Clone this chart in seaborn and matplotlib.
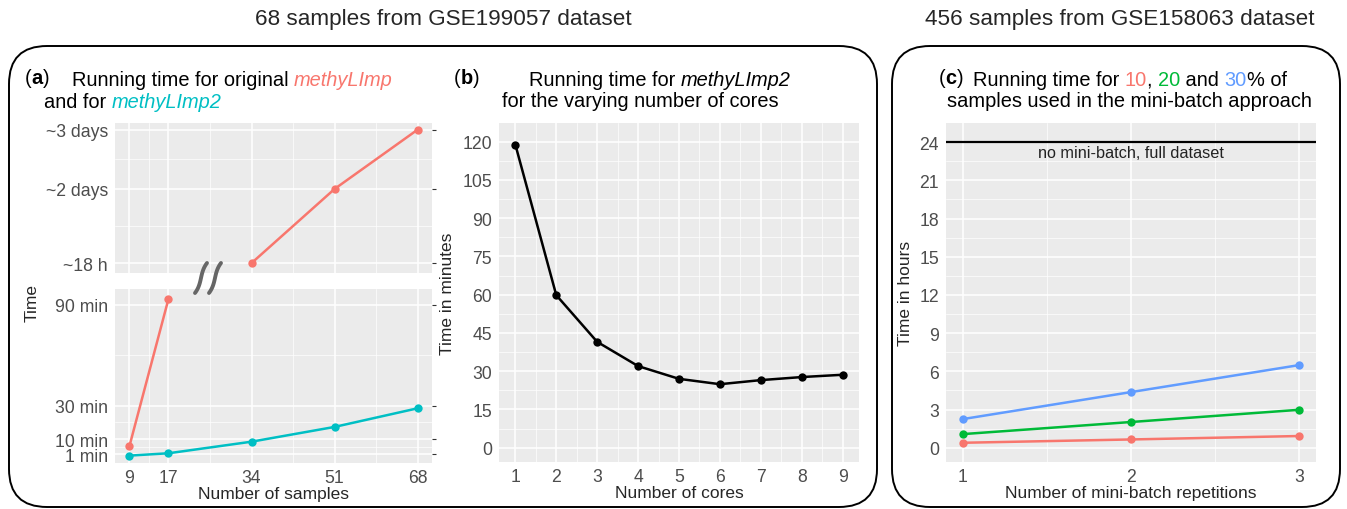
import numpy as np
import pandas as pd
import seaborn as sns
import matplotlib.pyplot as plt
from matplotlib.patches import FancyBboxPatch
from matplotlib.lines import Line2D
from matplotlib.offsetbox import TextArea, HPacker, AnnotationBbox

sns.set_theme(style="darkgrid")
plt.rcParams['font.family'] = ['Liberation Sans', 'DejaVu Sans']

# --- data ---
samples = [9, 17, 34, 51, 68]
orig_samples_low = [9, 17]
orig_minutes_low = [5.8, 93.6]
orig_samples_high = [34, 51, 68]
orig_hours_high = [18, 48, 72]
imp2_minutes = [0.2, 1.6, 8.5, 17.3, 28.4]

cores = [1, 2, 3, 4, 5, 6, 7, 8, 9]
cores_minutes = [118.8, 59.8, 41.5, 32.0, 27.0, 24.9, 26.5, 27.7, 28.6]

repetitions = [1, 2, 3]
pct_labels = ["10", "20", "30"]
pct10_hours = [0.39, 0.65, 0.92]
pct20_hours = [1.07, 2.02, 2.98]
pct30_hours = [2.25, 4.37, 6.49]
full_dataset_hours = 24

RED, TEAL = "#F8766D", "#00BFC4"
GREEN, BLUE = "#00BA38", "#619CFF"

W, H = 1347, 510
fig = plt.figure(figsize=(W / 100, H / 100), dpi=100)

TICK = 12.7
LAB = 12.5
TS = 14.4


def px_axes(x0, y0, x1, y1):
    # pixel box (top-left origin) -> figure axes
    return fig.add_axes([x0 / W, 1 - y1 / H, (x1 - x0) / W, (y1 - y0) / H])


def gg_style(ax, xmaj, xmin, ymaj, ymin):
    ax.set_facecolor("#EBEBEB")
    ax.set_xticks(xmaj)
    ax.set_xticks(xmin, minor=True)
    ax.set_yticks(ymaj)
    ax.set_yticks(ymin, minor=True)
    ax.grid(which="major", color="white", lw=1.1)
    ax.grid(which="minor", color="white", lw=0.5)
    ax.tick_params(which="major", length=3, width=0.8, color="#333333",
                   labelsize=TICK, labelcolor="#4D4D4D", pad=2)
    ax.tick_params(which="minor", length=0)
    for s in ax.spines.values():
        s.set_visible(False)
    ax.set_axisbelow(True)
    ax.set_xlabel("")
    ax.set_ylabel("")


def rich(x, y, parts, size, align=(0, 0.5)):
    areas = []
    for txt, color, style, weight in parts:
        areas.append(TextArea(txt, textprops=dict(color=color, fontsize=size,
                                                  fontstyle=style, fontweight=weight)))
    box = HPacker(children=areas, align="baseline", pad=0, sep=0)
    ab = AnnotationBbox(box, (x / W, 1 - y / H), xycoords="figure fraction",
                        box_alignment=align, frameon=False, pad=0)
    fig.add_artist(ab)


line_kw = dict(marker="o", markersize=6, markeredgewidth=0, linewidth=1.8)

# --- panel (a) upper ---
ax_up = px_axes(115, 124, 432, 274)
sns.lineplot(x=orig_samples_high, y=orig_hours_high, color=RED, ax=ax_up, **line_kw)
gg_style(ax_up, samples, [13, 25.5, 42.5, 59.5], [18, 48, 72], [33, 60])
ax_up.set_xlim(6.05, 70.95)
ax_up.set_ylim(14.0, 74.7)
ax_up.set_yticklabels(["~18 h", "~2 days", "~3 days"])
ax_up.tick_params(axis="x", which="both", length=0, labelbottom=False)
ax_up.tick_params(axis="y", right=True)

# --- panel (a) lower ---
ax_lo = px_axes(115, 290, 432, 464)
sns.lineplot(x=orig_samples_low, y=orig_minutes_low, color=RED, ax=ax_lo, **line_kw)
sns.lineplot(x=samples, y=imp2_minutes, color=TEAL, ax=ax_lo, **line_kw)
gg_style(ax_lo, samples, [13, 25.5, 42.5, 59.5], [1, 10, 30, 90], [5.5, 20, 60])
ax_lo.set_xlim(6.05, 70.95)
ax_lo.set_ylim(-4.2, 99.5)
ax_lo.set_yticklabels(["1 min", "10 min", "30 min", "90 min"])
ax_lo.tick_params(axis="y", right=True)
ax_lo.tick_params(axis="x", pad=1)
ax_lo.set_xlabel("Number of samples", fontsize=LAB, labelpad=0)
fig.text(32 / W, 1 - 303 / H, "Time", rotation=90, fontsize=LAB,
         ha="center", va="center")

# axis break marks
t = np.linspace(0, 1, 40)
for xc in (201, 215):
    u = 2 * t - 1
    xs = xc - 6 * (0.55 * u + 0.45 * u ** 3)
    ys = 264 + 30 * t
    fig.add_artist(Line2D(xs / W, 1 - ys / H, transform=fig.transFigure,
                          color="#666666", lw=2.8, solid_capstyle="round"))

# --- panel (b) ---
ax_b = px_axes(499, 124, 859, 463)
sns.lineplot(x=cores, y=cores_minutes, color="black", ax=ax_b, **line_kw)
gg_style(ax_b, cores, np.arange(1.5, 9, 1), np.arange(0, 121, 15),
         np.arange(7.5, 121, 15))
ax_b.set_xlim(0.6, 9.4)
ax_b.set_ylim(-5.6, 127.3)
ax_b.tick_params(axis="x", pad=1)
ax_b.set_xlabel("Number of cores", fontsize=LAB, labelpad=0)
ax_b.set_ylabel("Time in minutes", fontsize=LAB)
ax_b.yaxis.set_label_coords((455 - 499) / 360, 0.5)

# --- panel (c) ---
ax_c = px_axes(946, 124, 1316, 463)
df_c = pd.DataFrame({
    "rep": repetitions * 3,
    "hours": pct10_hours + pct20_hours + pct30_hours,
    "pct": [p for p in pct_labels for _ in repetitions],
})
sns.lineplot(data=df_c, x="rep", y="hours", hue="pct",
             palette=[RED, GREEN, BLUE], legend=False, ax=ax_c, **line_kw)
ax_c.axhline(full_dataset_hours, color="black", lw=1.6)
gg_style(ax_c, repetitions, [1.5, 2.5], np.arange(0, 25, 3), np.arange(1.5, 25, 3))
ax_c.set_xlim(0.9, 3.1)
ax_c.set_ylim(-1.12, 25.5)
ax_c.text(2, full_dataset_hours - 0.85, "no mini-batch, full dataset",
          ha="center", va="center", fontsize=11.7, color="#222222")
ax_c.tick_params(axis="x", pad=1)
ax_c.set_xlabel("Number of mini-batch repetitions", fontsize=LAB, labelpad=0)
ax_c.set_ylabel("Time in hours", fontsize=LAB)
ax_c.yaxis.set_label_coords((913 - 946) / 370, 0.5)

# --- titles ---
fig.text(443 / W, 1 - 20 / H, "68 samples from GSE199057 dataset",
         ha="center", va="center", fontsize=16.2)
fig.text(1120 / W, 1 - 20 / H, "456 samples from GSE158063 dataset",
         ha="center", va="center", fontsize=16.2)

tag = lambda c: [("(", "black", "normal", "normal"), (c, "black", "normal", "bold"),
                 (")", "black", "normal", "normal")]
rich(25, 78, tag("a"), TS)
rich(72, 80, [("Running time for original ", "black", "normal", "normal"),
              ("methyLImp", RED, "italic", "normal")], TS)
rich(44, 103, [("and for ", "black", "normal", "normal"),
               ("methyLImp2", TEAL, "italic", "normal")], TS)

rich(454, 78, tag("b"), TS)
rich(529, 80, [("Running time for ", "black", "normal", "normal"),
               ("methyLImp2", "black", "italic", "normal")], TS)
rich(502, 102, [("for the varying number of cores", "black", "normal", "normal")], TS)

rich(939, 78, tag("c"), TS)
rich(973, 80, [("Running time for ", "black", "normal", "normal"),
               ("10", RED, "normal", "normal"), (", ", "black", "normal", "normal"),
               ("20", GREEN, "normal", "normal"), (" and ", "black", "normal", "normal"),
               ("30", BLUE, "normal", "normal"), ("% of", "black", "normal", "normal")], TS)
rich(947, 102, [("samples used in the mini-batch approach", "black", "normal", "normal")], TS)

# --- rounded frames ---
inch = lambda px: px / 100
for x0, x1 in ((9, 877), (892, 1340)):
    box = FancyBboxPatch((inch(x0), inch(H - 508)), inch(x1 - x0), inch(508 - 47),
                         boxstyle="round,pad=0,rounding_size=0.38",
                         transform=fig.dpi_scale_trans, fill=False,
                         edgecolor="black", lw=1.4, clip_on=False)
    fig.add_artist(box)

fig.savefig("out.png", dpi=100)
